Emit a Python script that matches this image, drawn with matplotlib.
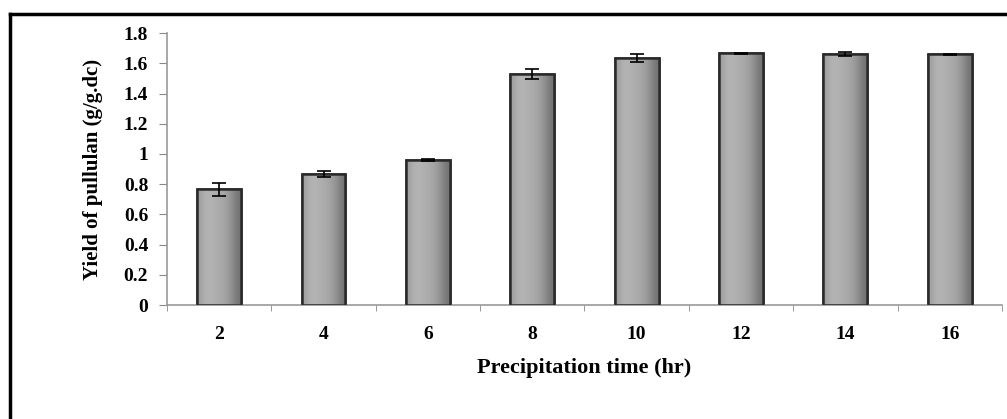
import numpy as np
import matplotlib.pyplot as plt
from matplotlib.lines import Line2D

# data
times = ['2', '4', '6', '8', '10', '12', '14', '16']
yield_vals = [0.765, 0.87, 0.96, 1.53, 1.635, 1.665, 1.66, 1.66]
yield_err = [0.045, 0.02, 0.005, 0.035, 0.025, 0.005, 0.012, 0.003]
y_ticks = [0, 0.2, 0.4, 0.6, 0.8, 1, 1.2, 1.4, 1.6, 1.8]
y_ticklabels = ['0', '0.2', '0.4', '0.6', '0.8', '1', '1.2', '1.4', '1.6', '1.8']

plt.rcParams['font.family'] = ['Liberation Serif', 'DejaVu Serif']
plt.rcParams['font.weight'] = 'bold'

fig = plt.figure(figsize=(10.07, 4.19), dpi=100)
ax = fig.add_axes([0.1658, 0.272, 0.8292, 0.649])

x = np.arange(len(times))
bars = ax.bar(x, yield_vals, width=0.42, color='#a9a9a9', edgecolor='#2a2a2a',
              linewidth=1.8, zorder=2)

# horizontal shading like the excel bevel
grad = np.array([[0.62, 0.70, 0.70, 0.68, 0.66, 0.62, 0.55, 0.45]])
for b in bars:
    x0, w, h = b.get_x(), b.get_width(), b.get_height()
    im = ax.imshow(grad, cmap='gray', vmin=0, vmax=1, aspect='auto',
                   extent=[x0, x0 + w, 0, h], interpolation='bicubic', zorder=2.5)
    im.set_clip_path(b)
    ax.add_patch(plt.Rectangle((x0, 0), w, h, fill=False, edgecolor='#2a2a2a',
                               linewidth=1.8, zorder=3))

ax.errorbar(x, yield_vals, yerr=yield_err, fmt='none', ecolor='black',
            elinewidth=1.2, capsize=5, capthick=1.2, zorder=4)

ax.set_xlim(-0.5, len(times) - 0.5)
ax.set_ylim(0, 1.8)
ax.set_yticks(y_ticks)
ax.set_yticklabels(y_ticklabels, fontsize=14, fontweight='bold')
ax.set_xticks(x)
ax.set_xticklabels(times, fontsize=14, fontweight='bold')
ax.set_xticks(np.arange(len(times) + 1) - 0.5, minor=True)
ax.tick_params(axis='x', which='major', length=0, pad=15)
ax.tick_params(axis='x', which='minor', length=4.5, color='#888888', direction='out')
ax.tick_params(axis='y', length=5.5, color='#888888', pad=8, direction='out')

for s in ['top', 'right']:
    ax.spines[s].set_visible(False)
for s in ['left', 'bottom']:
    ax.spines[s].set_color('#999999')
    ax.spines[s].set_linewidth(1.2)

ax.set_xlabel('Precipitation time (hr)', fontsize=16, fontweight='bold', labelpad=11)
ax.set_ylabel('Yield of pullulan (g/g.dc)', fontsize=15, fontweight='bold', labelpad=15)

# outer frame (top and left visible)
fig.add_artist(Line2D([0.0095, 0.0095], [0, 0.967], color='black', linewidth=2.5,
                      transform=fig.transFigure))
fig.add_artist(Line2D([0.0095, 1.0], [0.967, 0.967], color='black', linewidth=2.5,
                      transform=fig.transFigure))

plt.savefig('out.png', dpi=100)
